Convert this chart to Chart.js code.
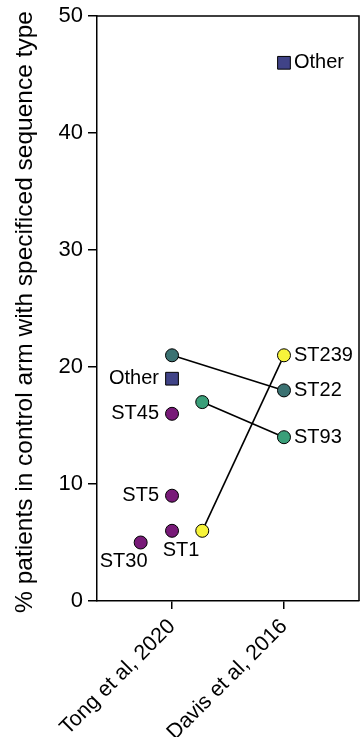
<!DOCTYPE html>
<html>
<head>
<meta charset="utf-8">
<script src="https://cdn.jsdelivr.net/npm/chart.js@4.4.0/dist/chart.umd.min.js"></script>
<style>
  html, body { margin: 0; padding: 0; background: #fff; }
  #wrap { width: 360px; height: 737px; }
</style>
</head>
<body>
<div id="wrap"><canvas id="stChart"></canvas></div>
<script>
const categories = ['Tong et al, 2020', 'Davis et al, 2016'];
const yTicks = [0, 10, 20, 30, 40, 50];
const yTitle = '% patients in control arm with specificed sequence type';

// Tong et al only (purple STs)
const tongNames = ['ST30', 'ST1', 'ST5', 'ST45'];
const tongX = [0.72, 1, 1, 1];
const tongY = [5, 6, 9, 16];

// "Other" in both studies
const otherNames = ['Other', 'Other'];
const otherX = [1, 2];
const otherY = [19, 46];

// STs in both studies
const st22Names = ['', 'ST22'];
const st22X = [1, 2];
const st22Y = [21, 18];

const st93Names = ['', 'ST93'];
const st93X = [1.27, 2];
const st93Y = [17, 14];

const st239Names = ['', 'ST239'];
const st239X = [1.27, 2];
const st239Y = [6, 21];

const FONT = '"Liberation Sans", Arial, sans-serif';

function pts(xs, ys) {
    return xs.map((x, i) => ({ x: x, y: ys[i] }));
}

function pointSet(xs, ys, names, color, side, style) {
    return {
        data: pts(xs, ys),
        names: names,
        side: side,
        showLine: false,
        pointStyle: style || 'circle',
        pointRadius: style === 'rect' ? 9 : 6.5,
        pointBackgroundColor: color,
        pointBorderColor: '#000',
        pointBorderWidth: 1,
        order: 1
    };
}

function lineSet(xs, ys) {
    return {
        data: pts(xs, ys),
        showLine: true,
        borderColor: '#000',
        borderWidth: 1.6,
        pointRadius: 0,
        order: 2
    };
}

// label text drawn next to each point
const pointLabels = {
    id: 'pointLabels',
    afterDatasetsDraw(chart) {
        const ctx = chart.ctx;
        ctx.save();
        ctx.font = '20px ' + FONT;
        ctx.fillStyle = '#000';
        chart.data.datasets.forEach((ds, di) => {
            if (!ds.names) return;
            const meta = chart.getDatasetMeta(di);
            meta.data.forEach((el, i) => {
                const txt = ds.names[i];
                if (!txt) return;
                const side = ds.side[i];
                let x = el.x, y = el.y;
                ctx.textBaseline = 'middle';
                if (side === 'left') { ctx.textAlign = 'right'; x -= 13; }
                else if (side === 'right') { ctx.textAlign = 'left'; x += 10; }
                else if (side === 'below') { ctx.textAlign = 'center'; x += 9; y += 20; }
                else if (side === 'belowLeft') { ctx.textAlign = 'center'; x -= 17; y += 19; }
                ctx.fillText(txt, x, y);
            });
        });
        ctx.restore();
    }
};

// box around plot + rotated y title
const frame = {
    id: 'frame',
    afterDraw(chart) {
        const a = chart.chartArea;
        const ctx = chart.ctx;
        ctx.save();
        ctx.strokeStyle = '#000';
        ctx.lineWidth = 1.5;
        ctx.beginPath();
        ctx.moveTo(a.left, a.top);
        ctx.lineTo(a.right, a.top);
        ctx.lineTo(a.right, a.bottom);
        ctx.stroke();
        ctx.translate(25, 312);
        ctx.rotate(-Math.PI / 2);
        ctx.font = '24.5px ' + FONT;
        ctx.textAlign = 'center';
        ctx.textBaseline = 'middle';
        ctx.fillText(yTitle, 0, 0);
        ctx.restore();
    }
};

const ctx = document.getElementById('stChart').getContext('2d');
new Chart(ctx, {
    type: 'scatter',
    data: {
        datasets: [
            pointSet(tongX, tongY, tongNames, '#781a78', ['belowLeft', 'below', 'left', 'left']),
            pointSet(otherX, otherY, otherNames, '#404387', ['left', 'right'], 'rect'),
            pointSet(st22X, st22Y, st22Names, '#3b7272', ['', 'right']),
            pointSet(st93X, st93Y, st93Names, '#3a9f79', ['', 'right']),
            pointSet(st239X, st239Y, st239Names, '#f7f43a', ['', 'right']),
            lineSet(st22X, st22Y),
            lineSet(st93X, st93Y),
            lineSet(st239X, st239Y)
        ]
    },
    options: {
        responsive: true,
        maintainAspectRatio: false,
        animation: false,
        layout: {
            autoPadding: false,
            padding: { top: 16, right: 1, left: 0, bottom: 0 }
        },
        scales: {
            x: {
                type: 'linear',
                min: 0.33,
                max: 2.67,
                afterBuildTicks: (scale) => {
                    scale.ticks = [{ value: 1 }, { value: 2 }];
                },
                afterFit: (scale) => {
                    scale.height = 136;
                    scale.paddingLeft = 0;
                    scale.paddingRight = 0;
                },
                grid: {
                    drawOnChartArea: false,
                    color: '#000',
                    lineWidth: 1.5,
                    tickLength: 8
                },
                border: { color: '#000', width: 1.5 },
                ticks: {
                    color: '#000',
                    font: { size: 21.5, family: FONT },
                    minRotation: 45,
                    maxRotation: 45,
                    padding: 5,
                    callback: (v) => categories[v - 1]
                }
            },
            y: {
                min: 0,
                max: 50,
                afterBuildTicks: (scale) => {
                    scale.ticks = yTicks.map(v => ({ value: v }));
                },
                afterFit: (scale) => {
                    scale.width = 97;
                    scale.paddingTop = 0;
                    scale.paddingBottom = 0;
                },
                grid: {
                    drawOnChartArea: false,
                    color: '#000',
                    lineWidth: 1.5,
                    tickLength: 9
                },
                border: { color: '#000', width: 1.5 },
                ticks: {
                    color: '#000',
                    font: { size: 22, family: FONT },
                    padding: 5
                }
            }
        },
        plugins: {
            legend: { display: false },
            tooltip: { enabled: false }
        }
    },
    plugins: [pointLabels, frame]
});
</script>
</body>
</html>
